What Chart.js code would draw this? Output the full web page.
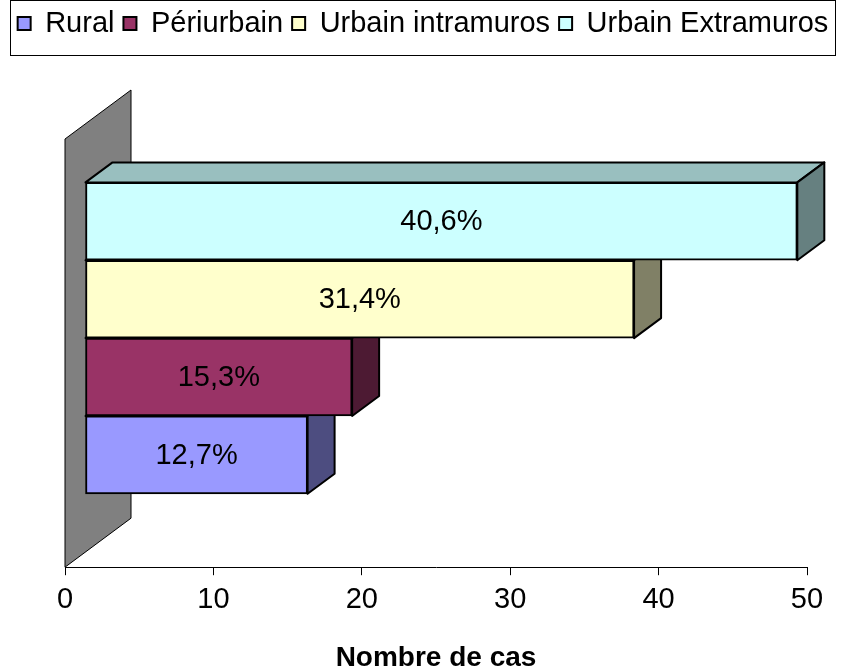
<!DOCTYPE html>
<html>
<head>
<meta charset="utf-8">
<script src="https://cdn.jsdelivr.net/npm/chart.js@4"></script>
<style>
  body { margin: 0; background: #fff; }
</style>
</head>
<body>
<canvas id="chart" width="846" height="672"></canvas>
<script>
// données
const series    = ["Rural", "Périurbain", "Urbain intramuros", "Urbain Extramuros"];
const nbCas     = [15, 18, 37, 48];
const pctLabels = ["12,7%", "15,3%", "31,4%", "40,6%"];
const xTicks    = [0, 10, 20, 30, 40, 50];
const colors    = ["#9999FF", "#993366", "#FFFFCC", "#CCFFFF"];

const FONT = "'Liberation Sans', Arial, sans-serif";

// effet 3D (en pixels)
const WALL  = { dx: 66, dy: -49 };   // profondeur du mur gauche
const SHIFT = { dx: 20, dy: -15 };   // barres placées dans la profondeur
const DEPTH = { dx: 27, dy: -20 };   // épaisseur des barres
const PLOT_TOP = 139, PLOT_LEFT = 65, PLOT_RIGHT = 39;

function shade(hex, k) {
  const n = parseInt(hex.slice(1), 16);
  const r = Math.round(((n >> 16) & 255) * k);
  const g = Math.round(((n >> 8) & 255) * k);
  const b = Math.round((n & 255) * k);
  return `rgb(${r},${g},${b})`;
}

function poly(ctx, pts, fill, lw) {
  ctx.beginPath();
  ctx.moveTo(pts[0][0], pts[0][1]);
  for (let i = 1; i < pts.length; i++) ctx.lineTo(pts[i][0], pts[i][1]);
  ctx.closePath();
  ctx.fillStyle = fill;
  ctx.fill();
  ctx.lineWidth = lw;
  ctx.strokeStyle = "#000";
  ctx.stroke();
}

// mur + faces cachées des barres + étiquettes
const bar3d = {
  id: "bar3d",
  beforeInit(chart) {
    // réserve la place entre la légende et la zone du graphique
    const fit = chart.legend.fit;
    chart.legend.fit = function () { fit.call(this); this.height = PLOT_TOP; };
  },
  beforeDatasetsDraw(chart) {
    const { ctx, chartArea: a } = chart;
    ctx.save();
    poly(ctx, [[a.left, a.top], [a.left + WALL.dx, a.top + WALL.dy],
               [a.left + WALL.dx, a.bottom + WALL.dy], [a.left, a.bottom]], "#808080", 1);
    ctx.translate(SHIFT.dx, SHIFT.dy);
    ctx.lineJoin = "round";
    series.forEach((s, i) => {
      const el = chart.getDatasetMeta(i).data[0];
      const { x, y, base, height } = el.getProps(["x", "y", "base", "height"], true);
      const top = y - height / 2, bottom = y + height / 2;
      poly(ctx, [[base, top], [base + DEPTH.dx, top + DEPTH.dy],
                 [x + DEPTH.dx, top + DEPTH.dy], [x, top]], shade(colors[i], 0.75), 2);
      poly(ctx, [[x, top], [x + DEPTH.dx, top + DEPTH.dy],
                 [x + DEPTH.dx, bottom + DEPTH.dy], [x, bottom]], shade(colors[i], 0.5), 2);
    });
  },
  afterDatasetsDraw(chart) {
    const { ctx } = chart;
    ctx.font = `29px ${FONT}`;
    ctx.fillStyle = "#000";
    ctx.textAlign = "center";
    ctx.textBaseline = "middle";
    series.forEach((s, i) => {
      const el = chart.getDatasetMeta(i).data[0];
      const { x, y, base } = el.getProps(["x", "y", "base"], true);
      ctx.fillText(pctLabels[i], (base + x) / 2, y + 1);
    });
    ctx.restore();
  },
  afterDraw(chart) {
    // cadre de la légende
    const boxes = chart.legend.legendHitBoxes;
    if (!boxes || !boxes.length) return;
    const ctx = chart.ctx;
    const left = Math.max(0, Math.min(...boxes.map(b => b.left)) - 8);
    const right = Math.min(chart.width - 1, Math.max(...boxes.map(b => b.left + b.width)) + 6);
    ctx.save();
    ctx.strokeStyle = "#000";
    ctx.lineWidth = 1;
    ctx.strokeRect(Math.round(left) + 0.5, 0.5, Math.round(right - left), 55);
    ctx.restore();
  }
};

const datasets = series.map((name, i) => ({
  label: name,
  data: [{ x: nbCas[i], y: i }],
  backgroundColor: colors[i],
  borderColor: "#000",
  borderWidth: 2,
  borderSkipped: false,
  grouped: false,
  categoryPercentage: 1,
  barPercentage: 1,
  clip: false
}));

// axes verticaux invisibles : ils ne servent qu'à fixer les marges
const blankAxis = (position, width) => ({
  type: "linear",
  position,
  display: true,
  offset: false,
  grid: { display: false, offset: false },
  border: { display: false },
  ticks: { display: false },
  afterFit: s => { s.width = width; }
});

new Chart(document.getElementById("chart"), {
  type: "bar",
  data: { datasets },
  options: {
    indexAxis: "y",
    responsive: false,
    animation: false,
    devicePixelRatio: 1,
    layout: { padding: 0 },
    scales: {
      x: {
        type: "linear",
        min: xTicks[0],
        max: xTicks[xTicks.length - 1],
        ticks: { stepSize: xTicks[1] - xTicks[0], color: "#000", font: { family: FONT, size: 29 }, padding: 7 },
        grid: { drawOnChartArea: false, drawTicks: true, tickLength: 8, color: "#000" },
        border: { display: true, color: "#000", width: 1 },
        title: {
          display: true,
          text: "Nombre de cas",
          color: "#000",
          font: { family: FONT, size: 28, weight: "bold", lineHeight: 1 },
          padding: { top: 20, bottom: 0 }
        }
      },
      y: {
        ...blankAxis("left", PLOT_LEFT),
        bounds: "data",
        min: -1.25,
        max: series.length + 0.25,
        afterBuildTicks: s => { s.ticks = series.map((_, i) => ({ value: i })); }
      },
      yRight: blankAxis("right", PLOT_RIGHT)
    },
    plugins: {
      legend: {
        position: "top",
        labels: {
          color: "#000",
          font: { family: FONT, size: 29 },
          boxWidth: 13,
          boxHeight: 13,
          padding: 9
        }
      },
      tooltip: { enabled: false }
    }
  },
  plugins: [bar3d]
});
</script>
</body>
</html>
